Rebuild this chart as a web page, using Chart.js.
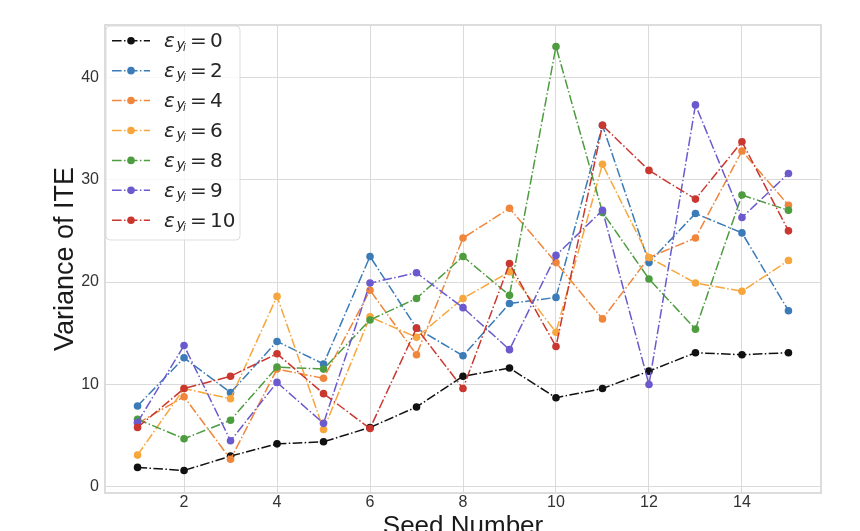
<!DOCTYPE html>
<html>
<head>
<meta charset="utf-8">
<script src="https://cdn.jsdelivr.net/npm/chart.js@4.4.1/dist/chart.umd.min.js"></script>
<style>
  html, body { margin: 0; padding: 0; background: #fff; }
  #chart { display: block; }
</style>
</head>
<body>
<canvas id="chart" width="860" height="531"></canvas>
<script>
// seeds on the x axis
const seeds = [1, 2, 3, 4, 5, 6, 7, 8, 9, 10, 11, 12, 13, 14, 15];
const xTicks = [2, 4, 6, 8, 10, 12, 14];
const yTicks = [0, 10, 20, 30, 40];

// variance of ITE per seed, one array per epsilon
const epsValues = ['0', '2', '4', '6', '8', '9', '10'];
const eps0 = [1.9, 1.6, 3.0, 4.2, 4.4, 5.8, 7.8, 10.8, 11.6, 8.7, 9.6, 11.3, 13.1, 12.9, 13.1];
const eps2 = [7.9, 12.6, 9.2, 14.2, 12.0, 22.5, 15.5, 12.8, 17.9, 18.5, 35.3, 21.9, 26.7, 24.8, 17.2];
const eps4 = [6.2, 8.8, 2.7, 11.5, 10.6, 19.2, 12.9, 24.3, 27.2, 21.9, 16.4, 22.4, 24.3, 32.8, 27.5];
const eps6 = [3.1, 9.6, 8.6, 18.6, 5.6, 16.6, 14.6, 18.4, 21.0, 15.1, 31.5, 22.4, 19.9, 19.1, 22.1];
const eps8 = [6.6, 4.7, 6.5, 11.7, 11.5, 16.3, 18.4, 22.5, 18.7, 43.0, 26.8, 20.3, 15.4, 28.5, 27.0];
const eps9 = [6.3, 13.8, 4.5, 10.2, 6.2, 19.9, 20.9, 17.5, 13.4, 22.6, 27.0, 10.0, 37.3, 26.3, 30.6];
const eps10 = [5.8, 9.6, 10.8, 13.0, 9.1, 5.7, 15.5, 9.6, 21.8, 13.7, 35.3, 30.9, 28.1, 33.7, 25.0];

const series = [eps0, eps2, eps4, eps6, eps8, eps9, eps10];
const colors = ['#111111', '#3a7bb8', '#f0863c', '#f6a63c', '#4d9c3f', '#6a5acd', '#c9372f'];

const tickFont = { family: '"Liberation Sans", Arial, sans-serif', size: 16 };
const titleFontFamily = '"Liberation Sans", Arial, sans-serif';

// matplotlib style '-.' for linewidth 1.5
const dashDot = [9.6, 2.4, 1.5, 2.4];

const datasets = series.map((values, i) => ({
    label: 'eps_' + epsValues[i],
    data: seeds.map((s, j) => ({ x: s, y: values[j] })),
    borderColor: colors[i],
    backgroundColor: colors[i],
    borderWidth: 1.5,
    borderDash: dashDot,
    pointRadius: 3.8,
    pointBorderWidth: 0,
    pointHoverRadius: 3.8,
    tension: 0,
    // later series are drawn on top, like matplotlib
    order: series.length - i,
}));

// light frame around the plot area
const framePlugin = {
    id: 'frame',
    beforeDatasetsDraw(chart) {
        const { ctx, chartArea } = chart;
        ctx.save();
        ctx.strokeStyle = '#dcdcdc';
        ctx.lineWidth = 2;
        ctx.strokeRect(chartArea.left, chartArea.top, chartArea.right - chartArea.left, chartArea.bottom - chartArea.top);
        ctx.restore();
    },
};

// legend with the math labels (epsilon with y_i subscript)
const epsLegendPlugin = {
    id: 'epsLegend',
    afterDatasetsDraw(chart) {
        const { ctx, chartArea } = chart;
        const boxX = chartArea.left + 1;
        const boxY = chartArea.top + 1;
        const boxW = 134;
        const boxH = 214;
        const rowGap = 29.93;

        ctx.save();
        ctx.beginPath();
        ctx.roundRect(boxX, boxY, boxW, boxH, 4);
        ctx.fillStyle = 'rgba(255, 255, 255, 0.8)';
        ctx.fill();
        ctx.strokeStyle = '#dddddd';
        ctx.lineWidth = 1;
        ctx.stroke();

        chart.data.datasets.forEach((ds, i) => {
            const cy = chartArea.top + 15.7 + i * rowGap;
            const base = cy + 6.6;

            // line sample
            ctx.beginPath();
            ctx.setLineDash(ds.borderDash);
            ctx.strokeStyle = ds.borderColor;
            ctx.lineWidth = ds.borderWidth;
            ctx.moveTo(chartArea.left + 7, cy);
            ctx.lineTo(chartArea.left + 45, cy);
            ctx.stroke();
            ctx.setLineDash([]);
            ctx.beginPath();
            ctx.arc(chartArea.left + 26, cy, ds.pointRadius, 0, Math.PI * 2);
            ctx.fillStyle = ds.backgroundColor;
            ctx.fill();

            // label text
            const tx = chartArea.left + 59;
            ctx.fillStyle = '#262626';
            ctx.textBaseline = 'alphabetic';
            ctx.textAlign = 'left';
            ctx.font = 'italic 20px "DejaVu Sans"';
            ctx.fillText('ε', tx, base);
            ctx.font = 'italic 14px "DejaVu Sans"';
            ctx.fillText('y', tx + 12.5, base + 2);
            ctx.font = 'italic 10px "DejaVu Sans"';
            ctx.fillText('i', tx + 19, base + 4);
            ctx.font = '20px "DejaVu Sans"';
            ctx.fillText('=', tx + 26, base);
            ctx.fillText(epsValues[i], tx + 46, base);
        });
        ctx.restore();
    },
};

const ctx = document.getElementById('chart').getContext('2d');
new Chart(ctx, {
    type: 'line',
    data: { datasets },
    options: {
        responsive: false,
        animation: false,
        devicePixelRatio: 1,
        layout: { padding: { top: 25, right: 39, left: 0, bottom: 0 } },
        plugins: {
            legend: { display: false },
            tooltip: { enabled: false },
        },
        scales: {
            x: {
                type: 'linear',
                min: 0.3,
                max: 15.7,
                afterBuildTicks: (scale) => { scale.ticks = xTicks.map((v) => ({ value: v })); },
                afterFit: (scale) => { scale.height = 38; },
                grid: { color: '#dadada', lineWidth: 1, drawTicks: false },
                border: { display: false },
                ticks: { font: tickFont, color: '#333333', padding: 0, maxRotation: 0 },
                title: {
                    display: true,
                    text: 'Seed Number',
                    color: '#1a1a1a',
                    font: { family: titleFontFamily, size: 26, lineHeight: 0.3 },
                    padding: 0,
                },
            },
            y: {
                type: 'linear',
                min: -0.6,
                max: 45.1,
                afterBuildTicks: (scale) => { scale.ticks = yTicks.map((v) => ({ value: v })); },
                afterFit: (scale) => { scale.width = 105; },
                grid: { color: '#dadada', lineWidth: 1, drawTicks: false },
                border: { display: false },
                ticks: { font: tickFont, color: '#333333', padding: 6 },
                title: {
                    display: true,
                    text: 'Variance of ITE',
                    color: '#1a1a1a',
                    font: { family: titleFontFamily, size: 27, lineHeight: 1 },
                    padding: { top: 52, bottom: 0 },
                },
            },
        },
    },
    plugins: [framePlugin, epsLegendPlugin],
});
</script>
</body>
</html>
